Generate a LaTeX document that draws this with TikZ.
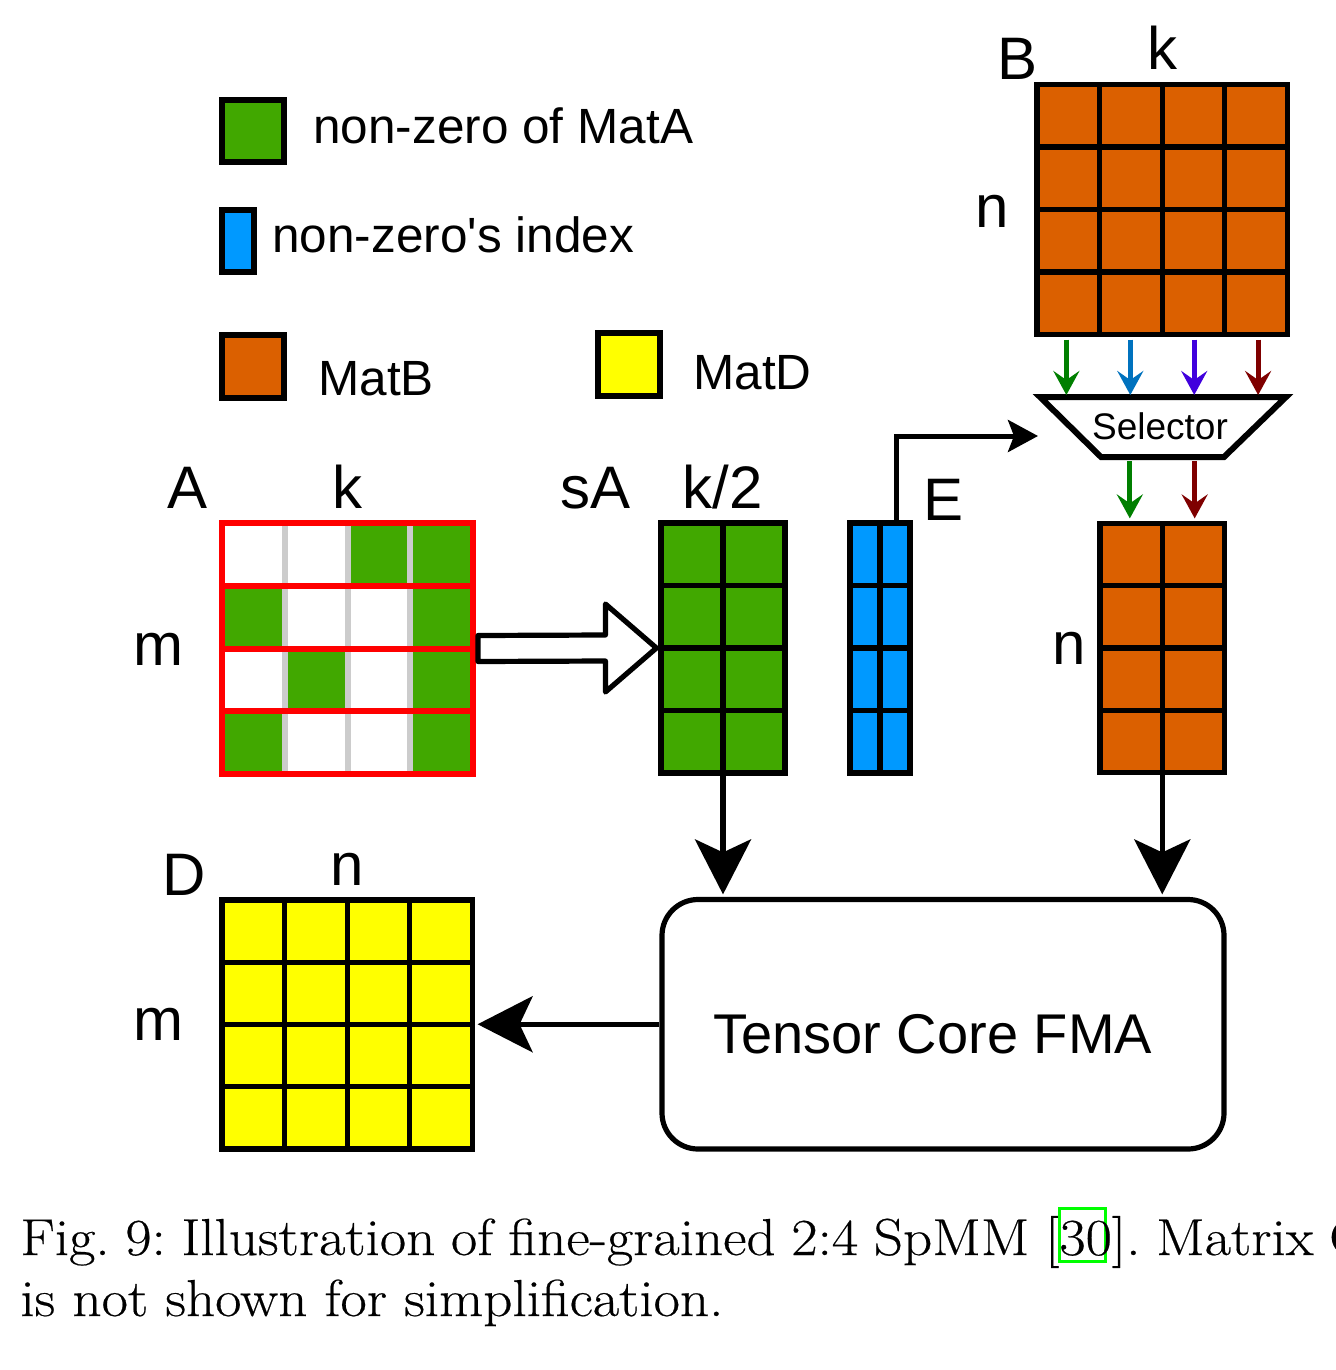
\documentclass[tikz,border=0pt]{standalone}
\usepackage{fontspec}
\newfontfamily\arial{Liberation Sans}
\newfontfamily\capfont{Latin Modern Roman}[FakeStretch=1.1,FakeBold=0.4]
\usetikzlibrary{arrows.meta,fit,calc}
\definecolor{cgreen}{HTML}{41A800}
\definecolor{cblue}{HTML}{0099FF}
\definecolor{corange}{HTML}{DB6000}
\definecolor{cyellow}{HTML}{FFFF00}
\definecolor{cred}{HTML}{FF0000}
\definecolor{cgray}{HTML}{CCCCCC}
\definecolor{agreen}{HTML}{007F00}
\definecolor{ablue}{HTML}{0072BE}
\definecolor{apurple}{HTML}{4000DD}
\definecolor{ared}{HTML}{7F0000}
\definecolor{lgreen}{HTML}{00FF00}
\newcommand\setfs[1]{\fontsize{#1}{#1}\selectfont}
\newcommand\linkframe[1]{\leavevmode\setbox0=\hbox{#1}%
  \rlap{\color{lgreen}\kern-0.5pt
    \rlap{\vrule width1.5pt height24pt depth4pt}%
    \rlap{\vrule width\dimexpr\wd0-2pt\relax height24pt depth-22.5pt}%
    \rlap{\vrule width\dimexpr\wd0-2pt\relax height-2.5pt depth4pt}%
    \kern\dimexpr\wd0-3.5pt\relax\vrule width1.5pt height24pt depth4pt}%
  \box0}
% name, x0, y0, x1, y1, ncols, nrows, fill
\newcommand\mgrid[8]{%
  \fill[#8] (#2,#3) rectangle (#4,#5);
  \foreach \i in {1,...,#6}{\ifnum\i<#6\relax
    \draw[gridline] ({#2+(#4-#2)*\i/#6},#3) -- ({#2+(#4-#2)*\i/#6},#5);\fi}
  \foreach \j in {1,...,#7}{\ifnum\j<#7\relax
    \draw[gridline] (#2,{#3+(#5-#3)*\j/#7}) -- (#4,{#3+(#5-#3)*\j/#7});\fi}
  \node[fit={(#2,#3)(#4,#5)}, inner sep=0pt, draw, gridline] (#1) {};
}
\begin{document}
\begin{tikzpicture}[x=0.5pt,y=-0.5pt,
  gridline/.style={line width=2.6pt},
  lab/.style={font={\arial\setfs{30pt}}, inner sep=0pt, anchor=base west},
  legtext/.style={font={\arial\setfs{24.75pt}}, inner sep=0pt, anchor=base west},
  legbox/.style={draw, line width=3pt},
  captext/.style={anchor=base west, inner sep=0pt, font={\capfont\setfs{26pt}\frenchspacing}},
  bigarrow/.style={line width=2.6pt, -{Stealth[length=27.5pt,width=28pt,inset=6.5pt]}},
  carrow/.style={line width=2.5pt, -{Stealth[length=12pt,width=13pt,inset=4.5pt]}},
  earrow/.style={line width=2.5pt, -{Stealth[length=15pt,width=16pt,inset=3pt]}},
  hollow/.style={line width=2.6pt, fill=white, line join=round}]
\path[use as bounding box, fill=white] (0,0) rectangle (1336,1370);

% ---- legend
\draw[legbox, fill=cgreen] (222,100) rectangle (284,162);
\node[legtext] (l1) at (313,143) {non-zero of MatA};
\draw[legbox, fill=cblue] (222,210) rectangle (254,272);
\node[legtext] (l2) at (272,252) {non-zero's index};
\draw[legbox, fill=corange] (222,335) rectangle (284,398);
\node[legtext] (l3) at (318,395) {MatB};
\draw[legbox, fill=cyellow] (598,333) rectangle (660,396);
\node[legtext] (l4) at (693,389) {MatD};

% ---- matrix A
\fill[white] (222,523) rectangle (473,774);
\foreach \r/\c in {1/3,1/4,2/1,2/4,3/2,3/4,4/1,4/4}
  \fill[cgreen] ({222+62.75*(\c-1)},{523+62.75*(\r-1)}) rectangle ++(62.75,62.75);
\foreach \c in {1,2,3}
  \draw[cgray, line width=3pt] ({222+62.75*\c},523) -- ++(0,251);
\foreach \r in {1,2,3}
  \draw[cred, line width=3pt] (222,{523+62.75*\r}) -- ++(251,0);
\node[fit={(222,523)(473,774)}, inner sep=0pt, draw=cred, line width=3pt] (A) {};
\node[lab] (lA) at (167,508) {A};
\node[lab] (lAk) at (332,508) {k};
\node[lab] (lAm) at (133,665) {m};

% ---- other matrices
\mgrid{sA}{661}{523}{785}{773}{2}{4}{cgreen}
\mgrid{E}{850}{523}{910}{773}{2}{4}{cblue}
\mgrid{B}{1037}{84.5}{1287.5}{334.5}{4}{4}{corange}
\mgrid{Bp}{1100}{523.5}{1224.5}{772.5}{2}{4}{corange}
\mgrid{D}{222}{900}{472.5}{1149}{4}{4}{cyellow}

\node[lab] (lsA) at (560,508) {sA};
\node[lab] (lk2) at (682,508) {k/2};
\node[lab] (lE) at (923,520) {E};
\node[lab] (lB) at (997,80) {B};
\node[lab] (lBk) at (1147,70) {k};
\node[lab] (lBn) at (975,227) {n};
\node[lab] (lBpn) at (1052,664) {n};
\node[lab] (lD) at (162,895) {D};
\node[lab] (lDn) at (330,885) {n};
\node[lab] (lDm) at (133,1040) {m};

% ---- selector
\draw[line width=3pt, fill=white] (1040,397) -- (1286,397) -- (1224,457) -- (1101,457) -- cycle;
\node[font={\arial\setfs{18.5pt}}, inner sep=0pt] (sel) at (1160,426) {Selector};
\coordinate (seltop) at (1163,395);
\coordinate (selbot) at (1162,461);
\coordinate (selin) at (1038,436);

\foreach \f/\c [count=\k] in {0.125/agreen,0.375/ablue,0.625/apurple,0.875/ared}{
  \coordinate (bo\k) at ($(B.south west)!\f!(B.south east)+(0,2.5)$);
  \draw[carrow,\c] (bo\k) -- (bo\k |- seltop);
}
\foreach \f/\c [count=\k] in {0.25/agreen,0.75/ared}{
  \coordinate (bi\k) at ($(Bp.north west)!\f!(Bp.north east)+(0,-2.5)$);
  \draw[carrow,\c] (bi\k |- selbot) -- (bi\k);
}

% ---- E to selector
\draw[earrow] ($(E.north)!0.5!(E.north east)$) |- (selin);

% ---- hollow arrow A -> sA
\draw[hollow] ($(A.east)+(2,-13)$) -- ($(sA.west)+(-53,-13)$) -- ($(sA.west)+(-53,-44)$)
  -- ($(sA.west)+(-2,0)$) -- ($(sA.west)+(-53,44)$) -- ($(sA.west)+(-53,13)$)
  -- ($(A.east)+(2,13)$) -- cycle;

% ---- tensor core
\node[fit={(662,899.5)(1224,1149)}, inner sep=0pt, draw, line width=2.6pt, rounded corners=18pt] (tc) {};
\node[font={\arial\setfs{28pt}}, inner sep=0pt, anchor=base west] (tct) at (713,1053) {Tensor Core FMA};

\draw[bigarrow] (sA.south) -- ($(sA.south |- tc.north)+(0,-2.5)$);
\draw[bigarrow] (Bp.south) -- ($(Bp.south |- tc.north)+(0,-2.5)$);
\draw[bigarrow] (tc.west) -- ($(tc.west -| D.east)+(2.5,0)$);

% ---- caption
\node[captext] (cap1) at (20,1255)
  {\makebox[673.5pt][s]{Fig. 9: Illustration of fine-grained 2:4 SpMM [\linkframe{30}]. Matrix C}};
\node[captext] (cap2) at (20,1316) {is not shown for simplification.};
\end{tikzpicture}
\end{document}
